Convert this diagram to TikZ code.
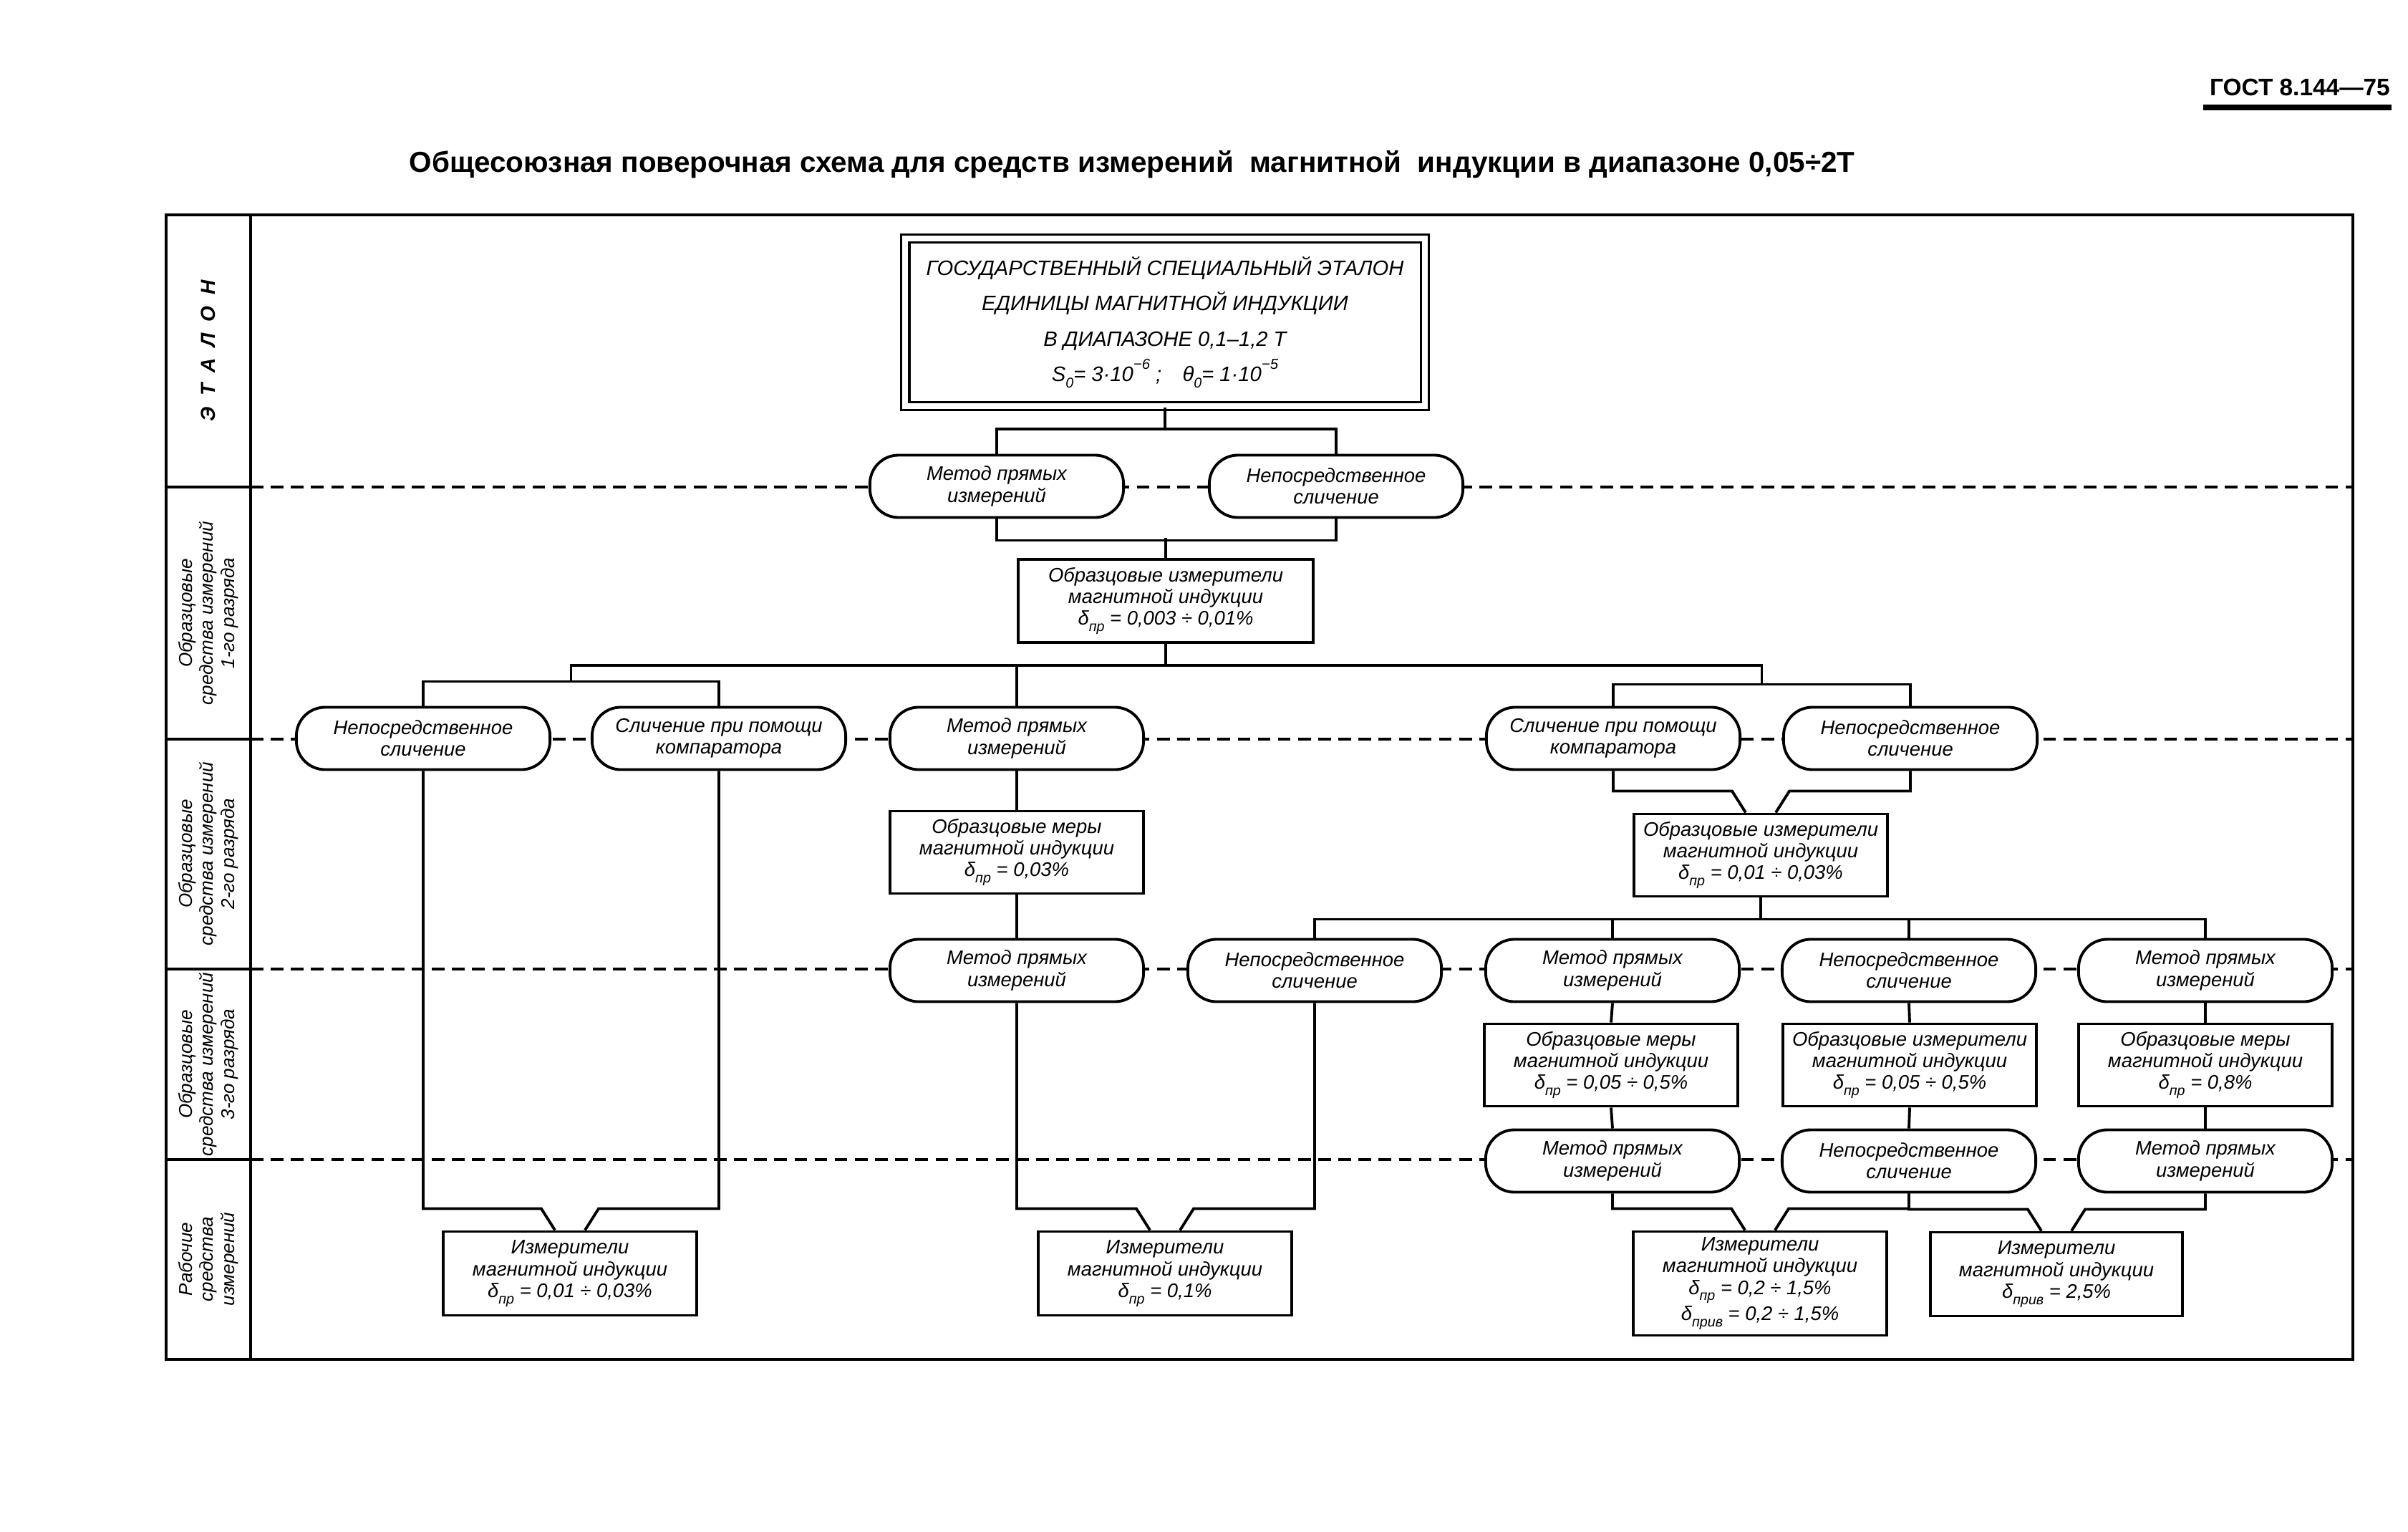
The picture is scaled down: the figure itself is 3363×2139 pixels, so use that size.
\documentclass[tikz,border=0pt]{standalone}
\usepackage{fontspec}
\setmainfont{Liberation Sans}
\usetikzlibrary{calc}
\newcommand{\lowsub}[1]{\raisebox{-0.6ex}{\fontsize{5.6}{6}\selectfont #1}}
\newcommand{\upsup}[1]{\raisebox{1.1ex}{\fontsize{5.8}{6}\selectfont #1}}
\newcommand{\dpr}{δ\lowsub{пр}}
\newcommand{\dprv}{δ\lowsub{прив}}
\begin{document}
\begin{tikzpicture}[x=0.01cm,y=-0.01cm,line width=1.1pt]
      \tikzstyle{oval}=[draw,fill=white,rounded corners=0.4cm,minimum width=3.54cm,minimum height=0.87cm,align=center,inner sep=1pt,font=\fontsize{7.8}{8.6}\selectfont\itshape]
      \tikzstyle{box}=[draw,fill=white,minimum width=3.54cm,minimum height=1.15cm,align=center,inner sep=1pt,font=\fontsize{7.8}{8.6}\selectfont\itshape]
      \tikzstyle{etalonbox}=[draw,double,double distance=2.3pt,line width=0.9pt,fill=white,minimum width=7.25cm,minimum height=2.34cm,align=center,font=\fontsize{8.3}{14}\selectfont\itshape]
      \tikzstyle{lbl}=[rotate=90,align=center,font=\fontsize{7.4}{8.4}\selectfont\itshape]
      \tikzstyle{divider}=[dash pattern=on 5pt off 3pt,line width=0.9pt]
      \useasboundingbox (0,0) rectangle (3363,2139);
      \node[font=\fontsize{11.5}{12}\selectfont\bfseries] (title) at (1581,230) {Общесоюзная поверочная схема для средств измерений\ \ магнитной\ \ индукции в диапазоне 0,05÷2Т};
      \node[font=\fontsize{9.5}{10}\selectfont\bfseries] (gost) at (3212,122) {ГОСТ 8.144—75};
      \draw[line width=2pt] (3077,150) -- (3340,150);
      \draw[line width=1.3pt] (232,300) rectangle (3286,1898);
      \draw[line width=1.3pt] (350,300) -- (350,1898);
      \foreach \y in {680,1032,1353,1619} {
        \draw (232,\y) -- (350,\y);
        \draw[divider] (350,\y) -- (3286,\y);
      }
      \node[lbl,font=\fontsize{8}{9}\selectfont\bfseries\itshape] (l0) at (291,490) {Э\ \ Т\ \ А\ \ Л\ \ О\ \ Н};
      \node[lbl] (l1) at (291,856) {Образцовые\\средства измерений\\1-го разряда};
      \node[lbl] (l2) at (291,1192) {Образцовые\\средства измерений\\2-го разряда};
      \node[lbl] (l3) at (291,1486) {Образцовые\\средства измерений\\3-го разряда};
      \node[lbl] (l4) at (291,1758) {Рабочие\\средства\\измерений};
      \node[etalonbox] (etalon) at (1627,450) {ГОСУДАРСТВЕННЫЙ СПЕЦИАЛЬНЫЙ ЭТАЛОН\\ЕДИНИЦЫ МАГНИТНОЙ ИНДУКЦИИ\\В ДИАПАЗОНЕ 0,1–1,2 Т\\S\lowsub{0}= 3·10\upsup{−6} ;\quad θ\lowsub{0}= 1·10\upsup{−5}};
      \node[oval] (m1) at (1392,679) {Метод прямых\\измерений};
      \node[oval] (n1) at (1866,679) {Непосредственное\\сличение};
      \node[box,minimum width=4.12cm,minimum height=1.16cm] (b1) at (1628,839) {Образцовые измерители\\магнитной индукции\\\dpr\ = 0,003 ÷ 0,01\%};
      \node[oval] (n2a) at (591,1031) {Непосредственное\\сличение};
      \node[oval] (k2a) at (1004,1031) {Сличение при помощи\\компаратора};
      \node[oval] (m2) at (1420,1031) {Метод прямых\\измерений};
      \node[oval] (k2b) at (2253,1031) {Сличение при помощи\\компаратора};
      \node[oval] (n2b) at (2668,1031) {Непосредственное\\сличение};
      \node[box] (b2m) at (1420,1190) {Образцовые меры\\магнитной индукции\\\dpr\ = 0,03\%};
      \node[box] (b2r) at (2459,1194) {Образцовые измерители\\магнитной индукции\\\dpr\ = 0,01 ÷ 0,03\%};
      \node[oval] (m3a) at (1420,1355) {Метод прямых\\измерений};
      \node[oval] (n3a) at (1836,1355) {Непосредственное\\сличение};
      \node[oval] (m3b) at (2252,1355) {Метод прямых\\измерений};
      \node[oval] (n3b) at (2666,1355) {Непосредственное\\сличение};
      \node[oval] (m3c) at (3080,1355) {Метод прямых\\измерений};
      \node[box] (b3a) at (2250,1487) {Образцовые меры\\магнитной индукции\\\dpr\ = 0,05 ÷ 0,5\%};
      \node[box] (b3b) at (2667,1487) {Образцовые измерители\\магнитной индукции\\\dpr\ = 0,05 ÷ 0,5\%};
      \node[box] (b3c) at (3080,1487) {Образцовые меры\\магнитной индукции\\\dpr\ = 0,8\%};
      \node[oval] (m4a) at (2252,1621) {Метод прямых\\измерений};
      \node[oval] (n4) at (2666,1621) {Непосредственное\\сличение};
      \node[oval] (m4b) at (3080,1621) {Метод прямых\\измерений};
      \node[box,minimum height=1.17cm] (w1) at (796,1778) {Измерители\\магнитной индукции\\\dpr\ = 0,01 ÷ 0,03\%};
      \node[box,minimum height=1.17cm] (w2) at (1627,1778) {Измерители\\магнитной индукции\\\dpr\ = 0,1\%};
      \node[box,minimum height=1.45cm] (w3) at (2458,1792) {Измерители\\магнитной индукции\\\dpr\ = 0,2 ÷ 1,5\%\\\dprv\ = 0,2 ÷ 1,5\%};
      \node[box,minimum height=1.17cm,minimum width=3.52cm] (w4) at (2872,1779) {Измерители\\магнитной индукции\\\dprv\ = 2,5\%};
      \draw (etalon.south) -- ++(0,30) coordinate (c0);
      \draw (m1.north) |- (c0) -| (n1.north);
      \draw (m1.south) -- ++(0,30) -| (n1.south);
      \draw (b1.north) -- ++(0,-28);
      \draw (b1.south) -- ++(0,30) coordinate (c1);
      \draw (n2a.north) -- ++(0,-34) -| (k2a.north);
      \draw (k2b.north) -- ++(0,-30) -| (n2b.north);
      \draw ($(n2a.north)!0.5!(k2a.north)+(0,-34)$) |- (c1) -| ($(k2b.north)!0.5!(n2b.north)+(0,-30)$);
      \draw (m2.north) -- (m2.north |- c1);
      \draw (m2.south) -- (b2m.north);
      \draw (b2m.south) -- (m3a.north);
      \draw (b2r.south) -- ++(0,30) coordinate (c2);
      \draw (n3a.north) |- (c2) -| (m3c.north);
      \draw (m3b.north) -- (m3b.north |- c2);
      \draw (n3b.north) -- (n3b.north |- c2);
      \draw (m3b.south) -- (b3a.north);
      \draw (n3b.south) -- (b3b.north);
      \draw (m3c.south) -- (b3c.north);
      \draw (b3a.south) -- (m4a.north);
      \draw (b3b.south) -- (n4.north);
      \draw (b3c.south) -- (m4b.north);
      \foreach \a/\b/\s in {k2b/b2r/-1,n2b/b2r/1,n2a/w1/-1,k2a/w1/1,m3a/w2/-1,n3a/w2/1,m4a/w3/-1,n4/w3/1,n4/w4/-1,m4b/w4/1}
        \draw (\a.south) |- ($(\b.north)+(\s*40,-30)$) -- ($(\b.north)+(\s*21,0)$);
    \end{tikzpicture}
\end{document}
